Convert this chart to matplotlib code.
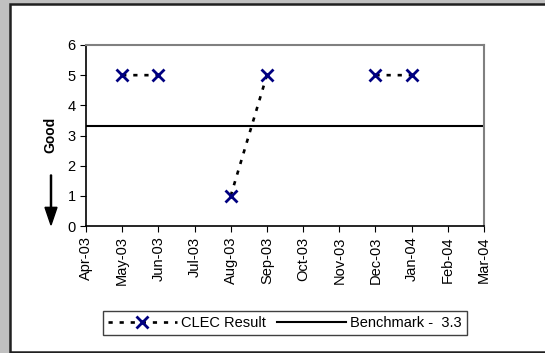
import numpy as np
import matplotlib
matplotlib.use('Agg')
import matplotlib.pyplot as plt
from matplotlib.patches import Rectangle, FancyArrow

plt.rcParams['font.family'] = ['Liberation Sans', 'DejaVu Sans']

months = ['Apr-03', 'May-03', 'Jun-03', 'Jul-03', 'Aug-03', 'Sep-03',
          'Oct-03', 'Nov-03', 'Dec-03', 'Jan-04', 'Feb-04', 'Mar-04']
clec_result = [np.nan, 5, 5, np.nan, 1, 5, np.nan, np.nan, 5, 5, np.nan, np.nan]
benchmark = 3.3

fig = plt.figure(figsize=(5.45, 3.53), dpi=100, facecolor='#c0c0c0')

# white chart panel with dark border (right edge runs off the image)
panel = Rectangle((9.5 / 545, 1.0 / 353), 1.2, 1 - 4.5 / 353,
                  transform=fig.transFigure, facecolor='white',
                  edgecolor='#202020', linewidth=1.8, zorder=-5)
fig.patches.append(panel)

ax = fig.add_axes([86 / 545, 1 - 226 / 353, (484 - 86) / 545, (226 - 45) / 353])
ax.set_facecolor('white')
x = np.arange(len(months))

line, = ax.plot(x, clec_result, color='black', linestyle=(0, (1.6, 2.6)),
                linewidth=1.9, marker='x', markersize=8.5, markeredgewidth=2,
                markeredgecolor='#000080', label='CLEC Result', zorder=3)
bench = ax.axhline(benchmark, color='black', linewidth=1.5,
                   label=f'Benchmark -  {benchmark}', zorder=2)

ax.set_xlim(0, len(months) - 1)
ax.set_ylim(0, 6)
ax.set_xticks(x)
ax.set_xticklabels(months, rotation=90, fontsize=10.5)
ax.set_yticks(range(0, 7))
ax.tick_params(axis='y', labelsize=10.5, length=4, direction='out', color='black')
ax.tick_params(axis='x', length=4, direction='out', color='black')

for side in ['top', 'right']:
    ax.spines[side].set_color('#808080')
    ax.spines[side].set_linewidth(1.5)
for side in ['left', 'bottom']:
    ax.spines[side].set_color('black')
    ax.spines[side].set_linewidth(1.2)

# "Good" label with downward arrow
fig.text(50 / 545, 1 - 135 / 353, 'Good', rotation=90, fontsize=10,
         fontweight='bold', ha='center', va='center')
fig.patches.append(FancyArrow(51 / 545, 1 - 175 / 353, 0, -(50 / 353),
                              width=0.002, head_width=0.022, head_length=0.05,
                              length_includes_head=True, color='black',
                              transform=fig.transFigure))

leg = fig.legend(handles=[line, bench], loc='center',
                 bbox_to_anchor=(285 / 545, 1 - 323 / 353), ncol=2,
                 fontsize=10.5, frameon=True, fancybox=False, framealpha=1,
                 edgecolor='#404040', handlelength=4.7, handletextpad=0.3,
                 columnspacing=0.8, borderpad=0.35)
leg.get_frame().set_linewidth(1.0)

fig.savefig('out.png', dpi=100, facecolor=fig.get_facecolor())
